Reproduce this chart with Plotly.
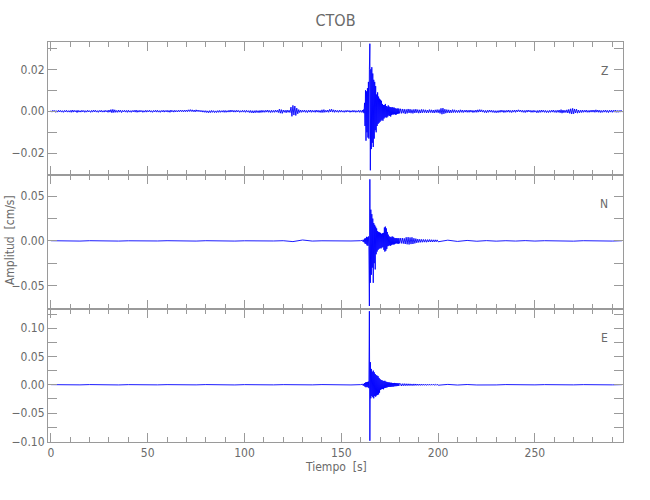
import numpy as np
import plotly.graph_objects as go
from plotly.subplots import make_subplots

# Amplitudes below are in units of 1e-4 cm/s.
AMP_UNIT = 1e-4
STATION = "CTOB"
CHANNELS = ["Z", "N", "E"]

# ---- Z component ----
z_pre = [3,-4,5,-3,4,-5,3,-4,5,-3,4,-4,3,-5,4,-3,5,-4,3,-4,
         4,-5,6,-4,5,-3,4,-6,5,-4,3,-4,5,-3,4,-5,3,-4,5,-3,
         3,-5,4,-4,6,-3,5,-4,3,-5,4,-3,5,-4,3,-4,5,-3,4,-5,
         6,-4,8,-7,9,-6,7,-5,4,-5,6,-4,5,-6,4,-3,5,-4,4,-5,
         5,-4,3,-5,4,-3,5,-4,6,-5,4,-4,5,-3,4,-5,3,-4,5,-4,
         4,-3,5,-4,3,-5,4,-3,5,-4,5,-4,3,-5,4,-3,5,-4,4,-3,
         5,-4,4,-5,6,-3,4,-4,5,-3,4,-3,5,-2,6,-2,5,-3,6,-2,
         6,-2,7,-1,8,-1,7,-2,6,-3,7,-1,6,-2,5,-3,4,-4,3,-5,
         3,-6,2,-7,3,-6,4,-5,3,-6,2,-6,3,-5,4,-5,3,-4,4,-5,
         4,-5,3,-4,5,-4,6,-3,5,-4,4,-4,5,-3,4,-5,3,-4,5,-4,
         4,-5,5,-4,3,-6,4,-7,3,-8,3,-7,4,-6,3,-7,4,-6,5,-5,
         4,-5,5,-4,6,-5,4,-6,5,-5,4,-5,6,-4,5,-6,10,-9,8,-10,
         6,-5,5,-7,6,-5,5,-6,20,-24,28,-18,25,-20,15,-12,8,-6,6,-5,
         5,-4,6,-5,4,-6,5,-4,6,-5,5,-4,4,-5,6,-4,5,-5,4,-6,
         7,-6,8,-5,5,-4,6,-5,9,-3,10,-4,7,-5,6,-4,4,-5,5,-4,
         5,-4,3,-5,4,-4,5,-3,4,-5,3,-4,5,-4,4,-5,3,-4,5,-5,
         4,-5]
z_event = [6,-5,8,-9, 40,-70,100,-140, 95,-100,110,-125, 140,-130,200,322,
           -281,200,-180,210, -150,180,-170,150, -130,140,-90,120, -100,80,-70,90,
           -60,70,-55,60, -50,55,-45,50, -40,35,-45,30, -35,30,-30,35,
           -28,25,-30,22, -25,28,-20,22, -22,20,-25,18, -18,20,-15,17,
           -15,18,-14,15, -16,13,-15,12, -12,14,-11,12, -10]
z_coda = [12,-10,11,-9,10,-12,9,-10,11,-8, 10,-9,8,-10,9,-8,10,-7,8,-9,
          7,-8,9,-7,8,-6,7,-8,6,-7, 8,-6,7,-7,6,-8,7,-6,8,-7]
z_post = [8,-10,14,-14,15,-12,10,-9,8,-7,7,-8,6,-7,8,-6,7,-6,5,-6,
          5,-6,7,-5,6,-6,5,-4,6,-5,5,-5,6,-4,5,-6,4,-5,6,-5,
          7,-4,8,-3,7,-4,5,-6,4,-7,5,-5,6,-4,5,-5,4,-6,3,-7,
          3,-6,4,-5,6,-4,5,-6,4,-5,5,-4,6,-5,4,-6,5,-4,6,-5,
          6,-3,7,-2,6,-4,5,-5,4,-6,5,-4,6,-3,5,-5,4,-5,5,-4,
          3,-7,4,-6,5,-5,6,-4,5,-5,4,-6,3,-6,4,-5,5,-4,6,-5,
          4,-6,5,-5,6,-7,8,-9,6,-7,5,-6,7,-8,9,-10,12,-13,14,-12,
          11,-8,10,-9,6,-7,5,-6,6,-5,5,-4,6,-5,4,-5,5,-4,6,-4,
          6,-5,7,-4,6,-5,5,-6,4,-5,5,-4,6,-5,4,-6,5,-4,5,-5,
          5,-4,6,-5,4,-5,4,-4,5,-4]

# ---- N component ----
n_pre = [2,-2,1,-2,2,-1,2,-2,1,-2, 2,-1,2,-2,1,-2,2,-1,2,-2,
         1,-2,2,-1,2,-8,10,-2,1,-2, 2,-1,2]
n_event = [8,-10,12,-15, 25,-30,28,-35, 45,-50,40,-55, 50,-60,-730,690,
           -470,350,-380,300, -300,250,-470,200, -250,180,-320,160, -150,140,-120,110,
           -100,100,-90,95, -80,90,-85,80, -75,85,-70,90, -100,150,-120,160,
           -110,140,-90,100, -60,70,-55,50, -50,45,-55,40, -45,50,-40,45,
           -40,35,-38,30, -30,32,-28,30, -30,28,-32,30, -28]
n_coda = [30,-28,32,-30,28,-35,40,-38,42,-40, 38,-36,40,-35,30,-28,25,-22,20,-18,
          18,-16,17,-15,16,-14,15,-15,14,-13, 15,-12,13,-12,12,-11,12,-10,11,-10]
n_post = [8,-6,5,-4,3,-3,2,-2,3,-2,2,-2,2,-3,2,-2,2,-2,2]

# ---- E component ----
e_pre = [2,-3,2,-2,3,-2,2,-3,2,-2, 3,-2,2,-3,2,-2,3,-2,2,-3,
         2,-2,3,-2,2,-3,2,-2,3,-2, 2,-3,2]
e_event = [10,-12,15,-20, 30,-35,40,-45, 45,-40,50,-45, 55,-60,1300,-990,
           400,-240,280,-200, 230,-220,250,-240, 220,-200,190,-210, 170,-190,160,-180,
           150,-170,120,-140, 100,-90,85,-80, 80,-75,70,-80, 65,-60,70,-55,
           55,-50,50,-45, 45,-40,42,-38, 40,-38,35,-36, 35,-32,30,-34,
           30,-28,32,-26, 28,-25,26,-24, 25,-22,24,-20, 22]
e_coda = [20,-22,19,-18,20,-17,18,-16,17,-15, 16,-15,14,-16,15,-13,14,-12,13,-12,
          12,-11,12,-10,11,-10,10,-11,10,-9, 10,-9,9,-8,9,-8,8,-9,8,-8]
e_post = [6,-5,4,-4,3,-3,3,-2,3,-2,2,-3,2,-2,2,-3,2,-2,2]

# segments: (start time [s], sample interval [s], amplitudes)
SEGMENTS = {
    "Z": [(0.0, 0.5, z_pre), (161.0, 0.25, z_event), (180.5, 0.5, z_coda), (200.5, 0.5, z_post)],
    "N": [(0.0, 5.0, n_pre), (161.0, 0.25, n_event), (180.5, 0.5, n_coda), (205.0, 5.0, n_post)],
    "E": [(0.0, 5.0, e_pre), (161.0, 0.25, e_event), (180.5, 0.5, e_coda), (205.0, 5.0, e_post)],
}

Y_RANGES = {"Z": [-0.0305, 0.033], "N": [-0.076, 0.0735], "E": [-0.1012, 0.1345]}
Y_TICKS = {
    "Z": ([-0.03, -0.02, -0.01, 0, 0.01, 0.02, 0.03], ["", "\u22120.02", "", "0.00", "", "0.02", ""]),
    "N": ([-0.075, -0.05, -0.025, 0, 0.025, 0.05], ["", "\u22120.05", "", "0.00", "", "0.05"]),
    "E": ([-0.1, -0.075, -0.05, -0.025, 0, 0.025, 0.05, 0.075, 0.1, 0.125],
          ["\u22120.10", "", "\u22120.05", "", "0.00", "", "0.05", "", "0.10", ""]),
}
X_RANGE = [-1.5, 295.5]
X_TICKS = [0, 50, 100, 150, 200, 250]


def trace_data(ch):
    ts, ys = [], []
    for t0, dt, vals in SEGMENTS[ch]:
        ts.append(t0 + dt * np.arange(len(vals)))
        ys.append(np.asarray(vals, dtype=float) * AMP_UNIT)
    return np.concatenate(ts), np.concatenate(ys)


FONT = "DejaVu Sans Condensed, Liberation Sans Narrow, DejaVu Sans, sans-serif"
AX = "#9a9a9a"
TXT = "#6a6a6a"

fig = make_subplots(rows=3, cols=1, shared_xaxes=True, vertical_spacing=0.0)

for i, ch in enumerate(CHANNELS, start=1):
    t, y = trace_data(ch)
    fig.add_trace(go.Scatter(x=t, y=y, mode="lines",
                             line=dict(color="#0000ff", width=0.9),
                             showlegend=False, hoverinfo="skip"), row=i, col=1)
    tv, tt = Y_TICKS[ch]
    fig.update_yaxes(row=i, col=1, range=Y_RANGES[ch], tickvals=tv, ticktext=tt,
                     ticks="inside", ticklen=9, tickcolor=AX, showline=True,
                     linecolor=AX, linewidth=1, mirror="ticks", showgrid=False,
                     zeroline=False, automargin=False,
                     tickfont=dict(family=FONT, size=12, color=TXT))
    fig.update_xaxes(row=i, col=1, range=X_RANGE, tickvals=X_TICKS,
                     ticks="inside", ticklen=9, tickcolor=AX, showline=True,
                     linecolor=AX, linewidth=1, mirror="ticks", showgrid=False,
                     zeroline=False, automargin=False,
                     minor=dict(dtick=10, tick0=0, ticks="inside", ticklen=5, tickcolor=AX),
                     tickfont=dict(family=FONT, size=12, color=TXT))
    fig.add_annotation(text=ch, xref=f"x{i} domain" if i > 1 else "x domain",
                       yref=f"y{i} domain" if i > 1 else "y domain",
                       x=0.978, y=0.85, showarrow=False,
                       font=dict(family=FONT, size=12, color=TXT))

fig.add_annotation(text="Amplitud  [cm/s]", xref="paper", yref="paper",
                   x=-0.066, y=0.505, xanchor="center", yanchor="middle",
                   textangle=-90, showarrow=False,
                   font=dict(family=FONT, size=12, color=TXT))
fig.add_annotation(text="Tiempo  [s]", xref="paper", yref="paper",
                   x=0.5, y=-0.0625, xanchor="center", yanchor="middle",
                   showarrow=False,
                   font=dict(family=FONT, size=12, color=TXT))

fig.update_layout(
    width=650, height=500,
    margin=dict(l=48, r=27, t=42, b=58),
    paper_bgcolor="white", plot_bgcolor="white",
    title=dict(text=STATION, x=0.5, xref="paper", y=0.96, yanchor="middle",
               font=dict(family=FONT, size=16, color=TXT)),
)

# remove the browser's default 8 px page margin so the figure fills the window
fig.write_html("out.html", config={"displayModeBar": False},
               post_script="document.body.style.margin='0';")
